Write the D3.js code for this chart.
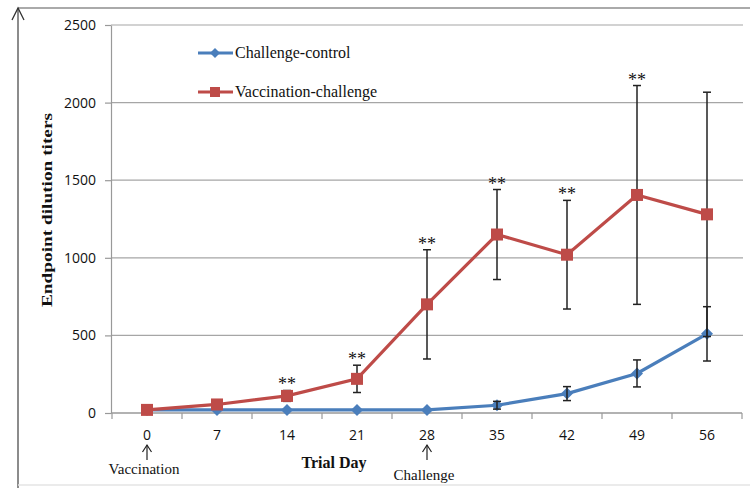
<!DOCTYPE html>
<html>
<head>
  <meta charset='utf-8'>
  <script src='https://d3js.org/d3.v7.min.js'></script>
  <style>
    body { margin: 0; background: #fff; }
    svg { display: block; }
  </style>
</head>
<body>
<script type='text/javascript'>
  'use strict';

  // values
  var days = ['0', '7', '14', '21', '28', '35', '42', '49', '56'];
  var controlMean = [20, 20, 20, 20, 20, 50, 125, 255, 510];
  var controlErr = [0, 0, 0, 0, 0, 25, 45, 87, 175];
  var vaccMean = [20, 55, 110, 220, 700, 1150, 1020, 1405, 1280];
  var vaccErr = [0, 0, 35, 88, 352, 290, 350, 705, 787];
  var starred = ['14', '21', '28', '35', '42', '49'];
  var yTicks = [0, 500, 1000, 1500, 2000, 2500];

  var W = 750, H = 488;
  var plotLeft = 112, plotRight = 742, plotTop = 25, plotBottom = 413;

  var svg = d3.select('body').append('svg')
    .attr('width', W).attr('height', H);

  var x = d3.scaleBand().domain(days).range([plotLeft, plotRight]).padding(0);
  var y = d3.scaleLinear().domain([0, 2500]).range([plotBottom, plotTop]);
  var cx = function(d) { return x(d) + x.bandwidth() / 2; };

  // frame: top line, left line with arrow head, faint bottom line
  svg.append('line').attr('x1', 18).attr('x2', W).attr('y1', 8).attr('y2', 8)
    .attr('stroke', '#aaa').attr('stroke-width', 2);
  svg.append('line').attr('x1', 18).attr('x2', 18).attr('y1', 8).attr('y2', H)
    .attr('stroke', '#666').attr('stroke-width', 1.5);
  svg.append('path').attr('d', 'M12,20L18,8L24,20')
    .attr('fill', 'none').attr('stroke', '#333').attr('stroke-width', 1.3);
  svg.append('line').attr('x1', 18).attr('x2', W).attr('y1', 485).attr('y2', 485)
    .attr('stroke', '#e4e4e4').attr('stroke-width', 1.5);

  // gridlines
  svg.append('g')
    .selectAll('line').data(yTicks.filter(function(v) { return v > 0; }))
    .enter().append('line')
    .attr('x1', plotLeft - 1).attr('x2', plotRight + 1)
    .attr('y1', function(d) { return y(d); }).attr('y2', function(d) { return y(d); })
    .attr('stroke', '#a6a6a6').attr('stroke-width', 1.2);

  // y axis
  var yAxis = svg.append('g')
    .attr('transform', 'translate(' + (plotLeft - 1) + ',0)')
    .call(d3.axisLeft(y).tickValues(yTicks).tickFormat(d3.format('d'))
      .tickSize(6).tickPadding(9).tickSizeOuter(0));
  yAxis.select('.domain').attr('stroke', '#999').attr('stroke-width', 1.2);
  yAxis.selectAll('.tick line').attr('stroke', '#999').attr('stroke-width', 1.2);
  yAxis.selectAll('text').style('font-family', '"Open Sans", sans-serif')
    .style('font-size', '14px').attr('fill', '#111');

  // x axis: labels at centres, ticks at band edges
  var xAxis = svg.append('g')
    .attr('transform', 'translate(0,' + plotBottom + ')')
    .call(d3.axisBottom(x).tickSize(0).tickPadding(17).tickSizeOuter(0));
  xAxis.select('.domain').attr('stroke', '#999').attr('stroke-width', 1.5)
    .attr('d', 'M' + (plotLeft - 1) + ',0H' + plotRight);
  xAxis.selectAll('text').style('font-family', '"Open Sans", sans-serif')
    .style('font-size', '14px').attr('fill', '#111');
  svg.append('g').selectAll('line').data(d3.range(days.length + 1))
    .enter().append('line')
    .attr('x1', function(i) { return plotLeft + i * x.bandwidth(); })
    .attr('x2', function(i) { return plotLeft + i * x.bandwidth(); })
    .attr('y1', plotBottom).attr('y2', plotBottom + 6)
    .attr('stroke', '#999').attr('stroke-width', 1.2);

  var line = d3.line()
    .x(function(d) { return cx(d.day); })
    .y(function(d) { return y(d.v); });

  function rows(means, errs) {
    return days.map(function(d, i) { return { day: d, v: means[i], e: errs[i] }; });
  }

  function errorBars(data) {
    var g = svg.append('g').attr('stroke', '#222').attr('stroke-width', 1.5);
    data.filter(function(d) { return d.e > 0; }).forEach(function(d) {
      var px = cx(d.day);
      g.append('line').attr('x1', px).attr('x2', px)
        .attr('y1', y(d.v - d.e)).attr('y2', y(d.v + d.e));
      [d.v - d.e, d.v + d.e].forEach(function(v) {
        g.append('line').attr('x1', px - 4).attr('x2', px + 4)
          .attr('y1', y(v)).attr('y2', y(v));
      });
    });
  }

  var blue = '#4a7ebb', red = '#be4b48';
  var control = rows(controlMean, controlErr);
  var vacc = rows(vaccMean, vaccErr);

  // challenge-control
  svg.append('path').datum(control).attr('d', line)
    .attr('fill', 'none').attr('stroke', blue).attr('stroke-width', 3.2);
  svg.append('g').selectAll('path').data(control).enter().append('path')
    .attr('d', 'M0,-6L6,0L0,6L-6,0Z')
    .attr('transform', function(d) { return 'translate(' + cx(d.day) + ',' + y(d.v) + ')'; })
    .attr('fill', blue);
  errorBars(control);

  // vaccination-challenge
  svg.append('path').datum(vacc).attr('d', line)
    .attr('fill', 'none').attr('stroke', red).attr('stroke-width', 3.2);
  errorBars(vacc);
  svg.append('g').selectAll('rect').data(vacc).enter().append('rect')
    .attr('x', function(d) { return cx(d.day) - 6; })
    .attr('y', function(d) { return y(d.v) - 6; })
    .attr('width', 12).attr('height', 12)
    .attr('fill', red);

  // significance marks
  svg.append('g').selectAll('text').data(vacc.filter(function(d) { return starred.indexOf(d.day) >= 0; }))
    .enter().append('text')
    .attr('x', function(d) { return cx(d.day); })
    .attr('y', function(d) { return y(d.v + d.e); })
    .attr('text-anchor', 'middle')
    .style('font-family', '"Liberation Serif", serif')
    .style('font-size', '18px').attr('fill', '#111')
    .text('**');

  // legend
  var legend = [
    { name: 'Challenge-control', color: blue, shape: 'diamond', y: 53 },
    { name: 'Vaccination-challenge', color: red, shape: 'square', y: 92 }
  ];
  var lg = svg.append('g');
  legend.forEach(function(l) {
    lg.append('line').attr('x1', 198).attr('x2', 233).attr('y1', l.y).attr('y2', l.y)
      .attr('stroke', l.color).attr('stroke-width', 3.2);
    if (l.shape === 'diamond') {
      lg.append('path').attr('d', 'M0,-5L5,0L0,5L-5,0Z')
        .attr('transform', 'translate(215,' + l.y + ')').attr('fill', l.color);
    } else {
      lg.append('rect').attr('x', 210).attr('y', l.y - 5).attr('width', 10).attr('height', 10)
        .attr('fill', l.color);
    }
    lg.append('text').attr('x', 235).attr('y', l.y + 5)
      .style('font-family', '"Liberation Serif", serif').style('font-size', '16px')
      .attr('fill', '#111').text(l.name);
  });

  // axis titles
  svg.append('text')
    .attr('transform', 'translate(52,210) rotate(-90)')
    .attr('text-anchor', 'middle')
    .attr('textLength', 194).attr('lengthAdjust', 'spacingAndGlyphs')
    .style('font-family', '"Liberation Serif", serif').style('font-size', '15px')
    .style('font-weight', 'bold').attr('fill', '#111')
    .text('Endpoint dilution titers');
  svg.append('text')
    .attr('x', 334).attr('y', 468).attr('text-anchor', 'middle')
    .style('font-family', '"Liberation Serif", serif').style('font-size', '16px')
    .style('font-weight', 'bold').attr('fill', '#111')
    .text('Trial Day');

  // event markers under the x axis
  var events = [
    { day: '0', label: 'Vaccination', y: 474 },
    { day: '28', label: 'Challenge', y: 480 }
  ];
  events.forEach(function(ev) {
    var px = cx(ev.day);
    svg.append('line').attr('x1', px).attr('x2', px).attr('y1', 445).attr('y2', 460)
      .attr('stroke', '#222').attr('stroke-width', 1.2);
    svg.append('path').attr('d', 'M' + (px - 4.5) + ',452L' + px + ',445L' + (px + 4.5) + ',452')
      .attr('fill', 'none').attr('stroke', '#222').attr('stroke-width', 1.2);
    svg.append('text').attr('x', px - 3).attr('y', ev.y).attr('text-anchor', 'middle')
      .style('font-family', '"Liberation Serif", serif').style('font-size', '15px')
      .attr('fill', '#111').text(ev.label);
  });
</script>
</body>
</html>
